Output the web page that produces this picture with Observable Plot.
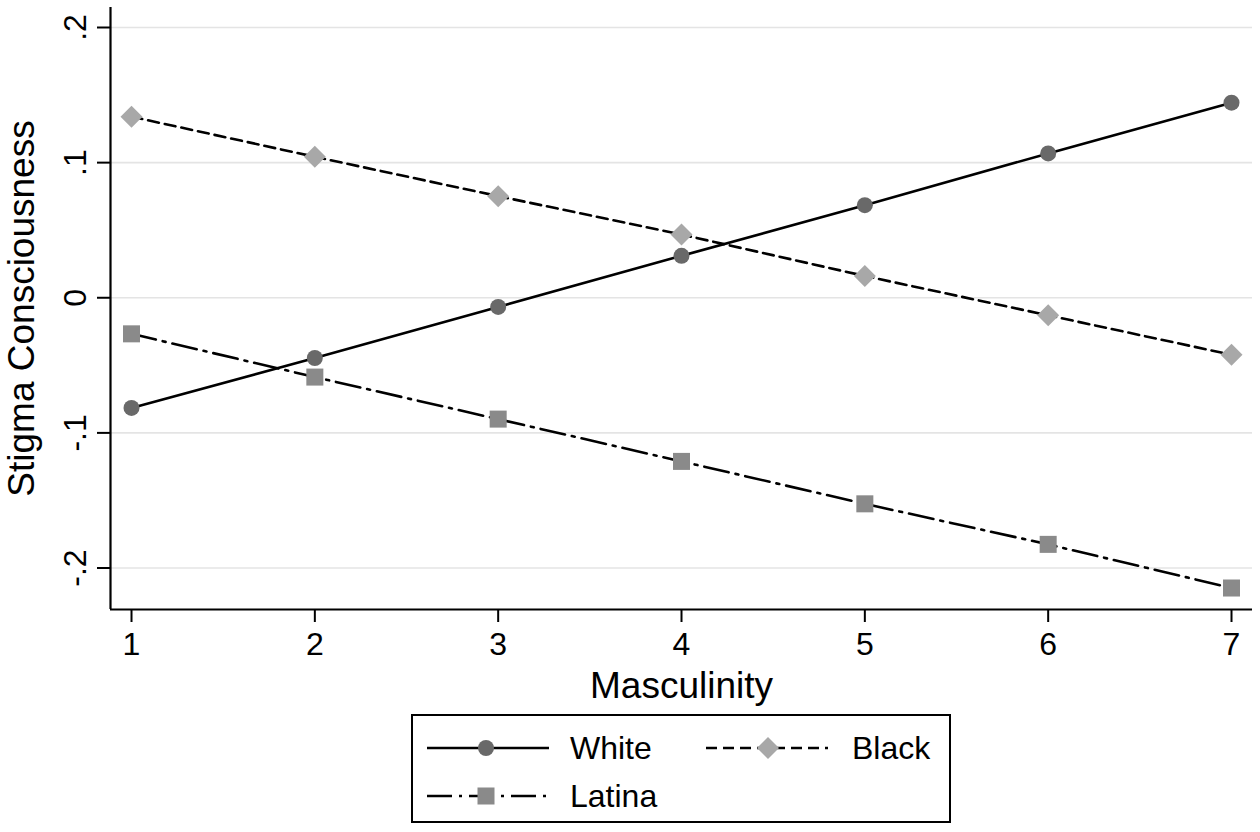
<!DOCTYPE html>
<html>
<head>
<meta charset="utf-8">
<script src="https://cdn.jsdelivr.net/npm/d3@7"></script>
<script src="https://cdn.jsdelivr.net/npm/@observablehq/plot@0.6"></script>
<style>
  body { margin: 0; background: #fff; font-family: "Liberation Sans", Arial, Helvetica, sans-serif; }
  #legend { margin-left: 411px; width: 536px; height: 105px; border: 2px solid #000; margin-top: 2px; }
</style>
</head>
<body>
<div id="chart"></div>
<div id="legend"></div>
<script>
// ---- data ----
const masculinity = [1, 2, 3, 4, 5, 6, 7];
const white  = [-0.0815, -0.0446, -0.0068, 0.0310, 0.0685, 0.1068, 0.1444];
const black  = [0.1340, 0.1043, 0.0752, 0.0468, 0.0161, -0.0130, -0.0422];
const latina = [-0.0267, -0.0587, -0.0898, -0.1211, -0.1525, -0.1825, -0.2148];
const seriesNames = ["White", "Black", "Latina"];
const xTicks = [1, 2, 3, 4, 5, 6, 7];
const yTicks = [0.2, 0.1, 0, -0.1, -0.2];
const yTickLabels = [".2", ".1", "0", "-.1", "-.2"];
const xLabel = "Masculinity";
const yLabel = "Stigma Consciousness";

// ---- styles ----
const styles = {
  White:  {dash: null,       symbol: "circle",   fill: "#696969", r: 8},
  Black:  {dash: "11,6",     symbol: "diamond2", fill: "#a8a8a8", r: 9.9},
  Latina: {dash: "25,7,3,7", symbol: "square",   fill: "#8a8a8a", r: 9.6}
};
const values = {White: white, Black: black, Latina: latina};
const rows = seriesNames.flatMap(g => masculinity.map((x, i) => ({group: g, x, y: values[g][i]})));

const font = '"Liberation Sans", Arial, Helvetica, sans-serif';

const marks = [
  Plot.gridY(yTicks, {stroke: "#e4e4e4", strokeOpacity: 1, strokeWidth: 1.6}),
  Plot.ruleX([0.8854], {stroke: "#000", strokeWidth: 2.2}),
  Plot.ruleY([-0.2307], {stroke: "#000", strokeWidth: 2.2}),
  Plot.axisX({ticks: xTicks, tickSize: 13, tickPadding: 10, tickFormat: d => String(d), label: null, fontSize: 32, strokeWidth: 2}),
  Plot.axisY({ticks: yTicks, tickSize: 13, tickPadding: 12, tickRotate: -90,
              tickFormat: d => yTickLabels[yTicks.indexOf(d)], label: null, fontSize: 32, strokeWidth: 2}),
  Plot.text([xLabel], {frameAnchor: "bottom", dy: 88, lineAnchor: "bottom", textAnchor: "middle", fontSize: 37, fill: "#000"}),
  Plot.text([yLabel], {frameAnchor: "left", dx: -88, rotate: -90, textAnchor: "middle", lineAnchor: "middle", fontSize: 37, fill: "#000"})
];
for (const g of seriesNames) {
  const s = styles[g];
  marks.push(Plot.line(rows.filter(d => d.group === g), {x: "x", y: "y", stroke: "#000", strokeWidth: 2.6,
    strokeDasharray: s.dash ?? undefined}));
}
for (const g of seriesNames) {
  const s = styles[g];
  marks.push(Plot.dot(rows.filter(d => d.group === g), {x: "x", y: "y", symbol: s.symbol, fill: s.fill, r: s.r, stroke: "none"}));
}

const chart = Plot.plot({
  width: 1260,
  height: 712,
  marginTop: 7,
  marginBottom: 103,
  marginLeft: 110,
  marginRight: 8,
  style: {fontFamily: font, fontSize: "32px", color: "#000", background: "#fff"},
  x: {domain: [0.8854, 7.1145]},
  y: {domain: [-0.2307, 0.2148]},
  marks
});
document.getElementById("chart").appendChild(chart);

// ---- legend ----
const lg = d3.select("#legend").append("svg").attr("width", 536).attr("height", 105)
  .style("display", "block").style("font-family", font);
const legendItems = [
  {name: "White",  x0: 14,  x1: 136, cx: 73,  tx: 157, y: 32},
  {name: "Black",  x0: 293, x1: 415, cx: 355, tx: 439, y: 32},
  {name: "Latina", x0: 14,  x1: 136, cx: 73,  tx: 157, y: 80}
];
const symMap = {circle: d3.symbolCircle, diamond2: d3.symbolDiamond2, square: d3.symbolSquare};
for (const it of legendItems) {
  const s = styles[it.name];
  lg.append("line").attr("x1", it.x0).attr("x2", it.x1).attr("y1", it.y).attr("y2", it.y)
    .attr("stroke", "#000").attr("stroke-width", 2.6).attr("stroke-dasharray", s.dash);
  lg.append("path").attr("d", d3.symbol(symMap[s.symbol], Math.PI * s.r * s.r)())
    .attr("transform", `translate(${it.cx},${it.y})`).attr("fill", s.fill);
  lg.append("text").attr("x", it.tx).attr("y", it.y).attr("dy", "0.35em")
    .attr("font-size", 32).text(it.name);
}
</script>
</body>
</html>
